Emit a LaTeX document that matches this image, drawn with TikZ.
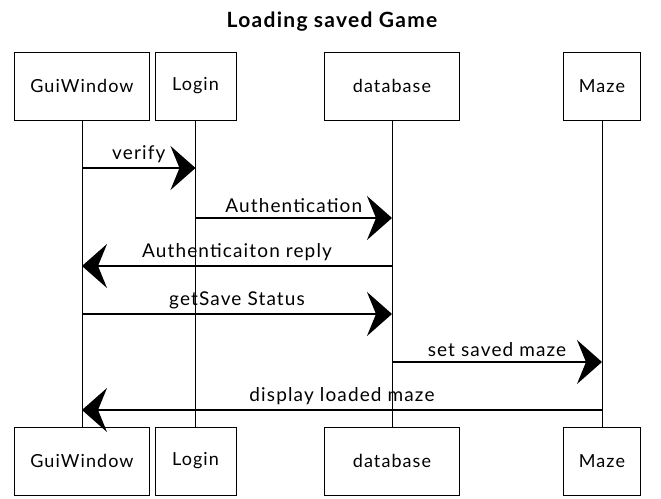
\documentclass[tikz,border=0pt]{standalone}
\usepackage{fontspec}
\setmainfont{Lato}
\newfontfamily\sketchfont[LetterSpace=6]{Lato}
\usetikzlibrary{arrows.meta}

\begin{document}
\begin{tikzpicture}[x=1pt,y=-1pt,
	actor/.style={draw,line width=1pt,minimum height=68pt,inner sep=0pt,font=\sketchfont\fontsize{18}{20}\selectfont},
	life/.style={line width=0.8pt},
	msg/.style={line width=1.4pt,-{Stealth[length=25pt,width=44pt,inset=9pt]}},
	lbl/.style={above=1pt,font=\sketchfont\fontsize{19}{21}\selectfont}]
	    \useasboundingbox (0,0) rectangle (661,498);

	    % title
	    \node[font=\sketchfont\fontsize{21}{23}\selectfont\bfseries] (title) at (332,22) {Loading saved Game};

	    % participants, top and bottom
	    \node[actor,minimum width=135pt] (guiT) at (82,86) {GuiWindow};
	    \node[actor,minimum width=81pt] (loginT) at (195.5,86) {Login};
	    \node[actor,minimum width=135pt] (dbT) at (392,86) {database};
	    \node[actor,minimum width=77pt] (mazeT) at (602,86) {Maze};
	    \node[actor,minimum width=135pt] (guiB) at (82,461) {GuiWindow};
	    \node[actor,minimum width=81pt] (loginB) at (195.5,461) {Login};
	    \node[actor,minimum width=135pt] (dbB) at (392,461) {database};
	    \node[actor,minimum width=77pt] (mazeB) at (602,461) {Maze};

	    % lifelines
	    \draw[life] (guiT) -- (guiB);
	    \draw[life] (loginT) -- (loginB);
	    \draw[life] (dbT) -- (dbB);
	    \draw[life] (mazeT) -- (mazeB);

	    % messages
	    \draw[msg] (guiT |- 0,168) -- node[lbl]{verify} (loginT |- 0,168);
	    \draw[msg] (loginT |- 0,218) -- node[lbl]{Authentication} (dbT |- 0,218);
	    \draw[msg] (dbT |- 0,266) -- node[lbl]{Authenticaiton reply} (guiT |- 0,266);
	    \draw[msg] (guiT |- 0,314) -- node[lbl]{getSave Status} (dbT |- 0,314);
	    \draw[msg] (dbT |- 0,362) -- node[lbl]{set saved maze} (mazeT |- 0,362);
	    \draw[msg] (mazeT |- 0,410) -- node[lbl]{display loaded maze} (guiT |- 0,410);
		\end{tikzpicture}
\end{document}
